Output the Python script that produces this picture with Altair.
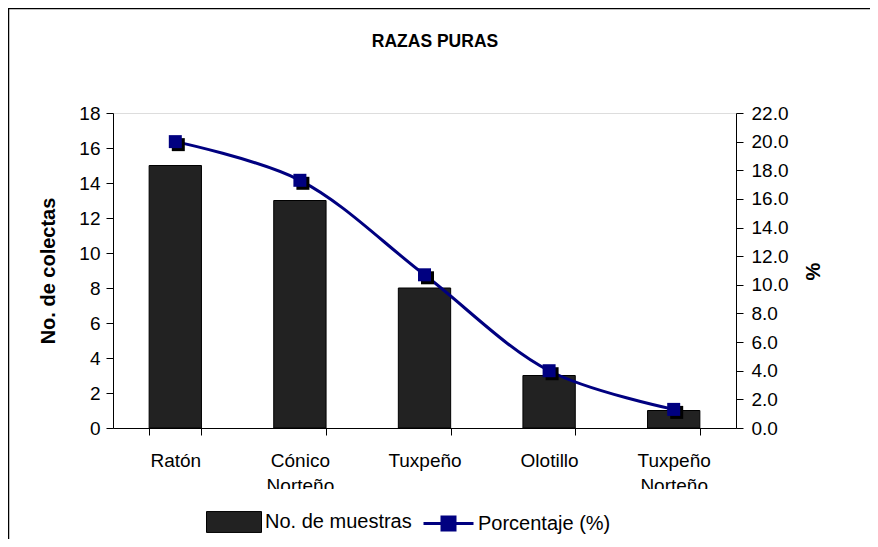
import altair as alt
import pandas as pd

categories = ["Ratón", "Cónico Norteño", "Tuxpeño", "Olotillo", "Tuxpeño Norteño"]
muestras = [15, 13, 8, 3, 1]
porcentaje = [20.0, 17.3, 10.7, 4.0, 1.3]
left_ticks = [0, 2, 4, 6, 8, 10, 12, 14, 16, 18]
right_ticks = [0, 2, 4, 6, 8, 10, 12, 14, 16, 18, 20, 22]
bar_series = "No. de muestras"
line_series = "Porcentaje (%)"
chart_title = "RAZAS PURAS"

df = pd.DataFrame({"cat": categories, "n": muestras, "pct": porcentaje})

FONT = "Liberation Sans"
LBL = 19

x_enc = alt.X(
    "cat:N",
    sort=categories,
    title=None,
    scale=alt.Scale(paddingInner=0.58, paddingOuter=0.29),
    axis=alt.Axis(
        labelAngle=0,
        labelExpr="split(datum.label, ' ')",
        labelFontSize=LBL,
        labelLineHeight=25,
        labelColor="#000000",
        labelPadding=16,
        tickBand="extent",
        tickSize=7,
        tickColor="#000000",
        domainColor="#000000",
        labelFont=FONT,
        zindex=0,
    ),
)

base = alt.Chart(df).encode(x=x_enc)

bars = base.transform_calculate(serie=f"'{bar_series}'").mark_bar(
    stroke="#000000", strokeWidth=1
).encode(
    y=alt.Y(
        "n:Q",
        scale=alt.Scale(domain=[0, 18], nice=False),
        axis=alt.Axis(
            values=left_ticks,
            title="No. de colectas",
            titleFontSize=20,
            titleFontWeight="bold",
            titleFont=FONT,
            titleColor="#000000",
            titlePadding=20,
            labelFontSize=LBL,
            labelFont=FONT,
            labelColor="#000000",
            tickSize=7,
            tickColor="#000000",
            domainColor="#000000",
            labelPadding=6,
            grid=False,
            zindex=0,
        ),
    ),
    color=alt.Color(
        "serie:N",
        scale=alt.Scale(domain=[bar_series], range=["#222222"]),
        legend=alt.Legend(
            title=None,
            orient="none",
            legendX=93,
            legendY=381,
            symbolType="M-1,-0.38H1V0.38H-1Z",
            symbolSize=3025,
            symbolStrokeWidth=1,
            labelFontSize=20,
            labelFont=FONT,
            labelColor="#000000",
            labelOffset=3,
        ),
    ),
)

y_right = alt.Y(
    "pct:Q",
    scale=alt.Scale(domain=[0, 22], nice=False),
    axis=alt.Axis(
        orient="right",
        values=right_ticks,
        format=".1f",
        title="%",
        titleAngle=270,
        titleFontSize=20,
        titleFontWeight="bold",
        titleFont=FONT,
        titleColor="#000000",
        titleX=77,
        titleY=158,
        titleAlign="center",
        titleBaseline="middle",
        labelFontSize=LBL,
        labelFont=FONT,
        labelColor="#000000",
        tickSize=7,
        tickColor="#000000",
        domainColor="#000000",
        labelPadding=8,
        grid=False,
        zindex=0,
    ),
)

line = base.transform_calculate(serie2=f"'{line_series}'").mark_line(
    strokeWidth=3, interpolate="catmull-rom"
).encode(
    y=y_right,
    color=alt.Color(
        "serie2:N",
        scale=alt.Scale(domain=[line_series], range=["#000080"]),
        legend=alt.Legend(
            title=None,
            orient="none",
            legendX=309,
            legendY=384,
            symbolType="M-1,0H1M-0.26,-0.26H0.26V0.26H-0.26Z",
            symbolSize=2500,
            symbolStrokeWidth=3,
            symbolFillColor="#000080",
            symbolStrokeColor="#000080",
            labelFontSize=20,
            labelFont=FONT,
            labelColor="#000000",
            labelOffset=3,
        ),
    ),
)

shadow = base.mark_point(
    shape="square", filled=True, size=169, color="#000000", opacity=1, xOffset=3, yOffset=3
).encode(y=y_right)

markers = base.mark_point(
    shape="square", filled=True, size=169, color="#000080", opacity=1
).encode(y=y_right)

one = pd.DataFrame({"t": [chart_title]})
title_mark = alt.Chart(one).mark_text(
    fontSize=17.5, fontWeight="bold", font=FONT, color="#000000", align="center", baseline="middle"
).encode(text="t:N", x=alt.value(322), y=alt.value(-71))
clip_rect = alt.Chart(one).mark_rect(color="#ffffff").encode(
    x=alt.value(-104), x2=alt.value(760), y=alt.value(376), y2=alt.value(396)
)
border_left = alt.Chart(one).mark_rule(color="#000000", strokeWidth=1.5).encode(
    x=alt.value(-104.5), y=alt.value(-104.5), y2=alt.value(600)
)
border_top = alt.Chart(one).mark_rule(color="#000000", strokeWidth=1.5).encode(
    x=alt.value(-105), x2=alt.value(900), y=alt.value(-104.5)
)

right_layer = alt.layer(line, shadow, markers)

chart = (
    alt.layer(bars, right_layer, clip_rect, title_mark, border_left, border_top)
    .resolve_scale(y="independent", color="independent")
    .properties(
        width=623,
        height=315,
        autosize=alt.AutoSizeParams(type="none"),
        padding={"left": 105, "top": 105, "right": 134, "bottom": 111},
    )
    .configure_view(stroke="#808080", strokeWidth=1)
    .configure(font=FONT)
)

chart.save("out.html", embed_options={"renderer": "svg", "actions": False})
